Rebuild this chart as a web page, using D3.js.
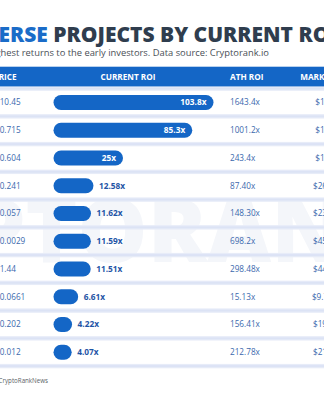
<!DOCTYPE html>
<html><head><meta charset="utf-8">
<script src="https://cdn.jsdelivr.net/npm/d3@7/dist/d3.min.js"></script>
<style>
html,body{margin:0;padding:0;background:#fff;overflow:hidden;}
svg{display:block;font-family:"Open Sans",sans-serif;}
</style></head>
<body>
<script>
// ---- data ----
const ranks = [1,2,3,4,5,6,7,8,9,10];
const prices = ["$10.45","$0.715","$0.604","$0.241","$0.057","$0.0029","$1.44","$0.0661","$0.202","$0.012"];
const currentRoi = [103.8, 85.3, 25, 12.58, 11.62, 11.59, 11.51, 6.61, 4.22, 4.07];
const currentRoiLabels = ["103.8x","85.3x","25x","12.58x","11.62x","11.59x","11.51x","6.61x","4.22x","4.07x"];
const athRoiLabels = ["1643.4x","1001.2x","243.4x","87.40x","148.30x","698.2x","298.48x","15.13x","156.41x","212.78x"];
const marketCaps = ["$1.2B","$1.1B","$1.0B","$266M","$235M","$452M","$441M","$9.75M","$195M","$213M"];
const headers = ["PRICE","CURRENT ROI","ATH ROI","MARKET CAP"];
const titleBlue = "METAVERSE";
const titleDark = " PROJECTS BY CURRENT ROI";
const subtitle = "Projects that brought the highest returns to the early investors. Data source: Cryptorank.io";
const footer = "@CryptoRankNews";

const W = 324, H = 400;
const svg = d3.select("body").append("svg").attr("width", W).attr("height", H);

const blue = "#1466c6";
const textBlue = "#3a68ad";

// watermark
svg.append("text")
  .attr("x", 405).attr("y", 262)
  .attr("text-anchor", "end")
  .attr("font-size", 88).attr("font-weight", 800)
  .attr("fill", "#f4f6fa")
  .text("CRYPTORANK");

// title
const title = svg.append("text").attr("y", 41.5).attr("font-size", 21).attr("font-weight", 800);
title.append("tspan").attr("fill", "#1a6cc8").text(titleBlue);
title.append("tspan").attr("fill", "#2f3d4e").text(titleDark);
const pre = title.node().getSubStringLength(0, titleBlue.length + 1);
title.attr("x", 53.3 - pre);

svg.append("text").attr("x", 269).attr("y", 55.5).attr("text-anchor", "end")
  .attr("font-size", 9.35).attr("fill", "#4a4f57").text(subtitle);

// header band
const y = d3.scaleBand().domain(ranks).range([88.6, 88.6 + 27.75 * 10]).padding(0);
svg.append("rect").attr("x", 0).attr("y", 66.7).attr("width", W).attr("height", 20.5).attr("fill", blue);

const colX = {price: -5, bar: 53.5, ath: 230, cap: 326};
const headerDefs = [
  {t: headers[0], x: -6.5, a: "start"},
  {t: headers[1], x: 128, a: "middle"},
  {t: headers[2], x: colX.ath, a: "start"},
  {t: headers[3], x: colX.cap, a: "middle"}
];
svg.selectAll("text.hdr").data(headerDefs).join("text").attr("class", "hdr")
  .attr("x", d => d.x).attr("y", 80).attr("text-anchor", d => d.a)
  .attr("font-size", 8.2).attr("font-weight", 700).attr("fill", "#fff").text(d => d.t);

// separators
const sepY = [y.range()[0]].concat(ranks.map(r => y(r) + y.bandwidth()));
const sepG = svg.append("g");
sepG.selectAll("rect.sep").data(sepY).join("rect")
  .attr("x", 0).attr("width", W).attr("y", d => d - 2.2).attr("height", 4.4).attr("fill", "#e7ecf8");
sepG.selectAll("rect.sep2").data(sepY).join("rect")
  .attr("x", 0).attr("width", W).attr("y", d => d - 1).attr("height", 2).attr("fill", "#dce3f5");

// bar width scale
const w = d3.scaleLinear().domain([4, 12.6, 25, 103.8]).range([18, 40, 69.5, 160]);
const barH = 15;
const rows = ranks.map((r, i) => ({r, i}));
const cy = d => y(d.r) + y.bandwidth() / 2;

svg.selectAll("rect.bar").data(rows).join("rect").attr("class", "bar")
  .attr("x", colX.bar).attr("y", d => cy(d) - barH / 2)
  .attr("width", d => w(currentRoi[d.i])).attr("height", barH)
  .attr("rx", barH / 2).attr("fill", blue);

const inside = d => w(currentRoi[d.i]) > 60;
svg.selectAll("text.roi").data(rows).join("text").attr("class", "roi")
  .attr("x", d => inside(d) ? colX.bar + w(currentRoi[d.i]) - 7 : colX.bar + w(currentRoi[d.i]) + 5.5)
  .attr("y", d => cy(d)).attr("dy", "0.35em")
  .attr("text-anchor", d => inside(d) ? "end" : "start")
  .attr("font-size", 8.3).attr("font-weight", 700)
  .attr("fill", d => inside(d) ? "#fff" : "#1f55a6")
  .text(d => currentRoiLabels[d.i]);

svg.selectAll("text.price").data(rows).join("text").attr("class", "price")
  .attr("x", colX.price).attr("y", d => cy(d)).attr("dy", "0.35em")
  .attr("font-size", 8.2).attr("fill", textBlue).text(d => prices[d.i]);

svg.selectAll("text.ath").data(rows).join("text").attr("class", "ath")
  .attr("x", colX.ath).attr("y", d => cy(d)).attr("dy", "0.35em")
  .attr("font-size", 8.2).attr("fill", textBlue).text(d => athRoiLabels[d.i]);

svg.selectAll("text.cap").data(rows).join("text").attr("class", "cap")
  .attr("x", colX.cap).attr("y", d => cy(d)).attr("dy", "0.35em").attr("text-anchor", "middle")
  .attr("font-size", 8.2).attr("fill", textBlue).text(d => marketCaps[d.i]);

svg.append("text").attr("x", 48).attr("y", 383).attr("text-anchor", "end")
  .attr("font-size", 6.2).attr("fill", "#5a5f66").text(footer);
</script>
</body></html>
